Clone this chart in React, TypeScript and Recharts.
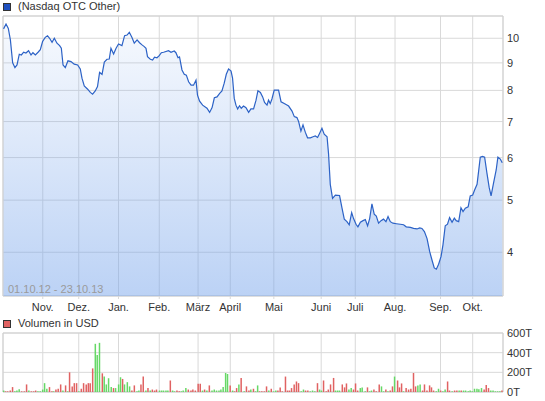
import { AreaChart, Area, BarChart, Bar, Cell, XAxis, YAxis, CartesianGrid, ReferenceArea } from "recharts";

// x values are trading-day indices from 01.10.12 (0) to 23.10.13 (264)
const dayDomain: [number, number] = [0, 264];
const monthTicks = [21, 40, 61, 82.5, 103, 120, 143, 168, 186, 207, 231, 248];
const monthLabels = ["Nov.", "Dez.", "Jan.", "Feb.", "März", "April", "Mai", "Juni", "Juli", "Aug.", "Sep.", "Okt."];

const priceTicks = [4, 5, 6, 7, 8, 9, 10];
const priceDomain: [number, number] = [3.317, 11.0];
const volumeTicks = [0, 200, 400, 600];
const volumeDomain: [number, number] = [0, 600];

// [day, close in USD]
const price: [number, number][] = [
  [0.3, 10.41], [1.6, 10.63], [2.8, 10.43], [3.9, 9.93], [5.1, 9.0], [6.3, 8.82], [7.4, 8.92], [8.6, 9.34],
  [9.7, 9.31], [10.9, 9.42], [12.1, 9.39], [13.5, 9.48], [14.8, 9.31], [15.8, 9.4], [17.1, 9.31], [18.5, 9.42],
  [19.7, 9.52], [20.9, 9.86], [22.3, 10.04], [23.5, 10.11], [24.6, 10.0], [25.9, 9.83], [27.1, 10.0], [28.5, 9.79],
  [29.9, 9.69], [30.8, 9.58], [31.7, 8.92], [32.9, 8.82], [34.3, 9.08], [35.9, 9.05], [37.6, 8.95], [39.4, 8.92],
  [40.8, 8.77], [41.7, 8.43], [42.9, 8.15], [44.7, 8.04], [46.1, 7.93], [47.3, 7.87], [48.7, 7.98], [49.9, 8.13],
  [51.0, 8.64], [52.3, 8.57], [53.5, 9.03], [54.9, 9.14], [56.1, 9.15], [57.0, 9.58], [58.4, 9.35], [59.7, 9.58],
  [61.0, 9.76], [62.8, 9.69], [64.2, 10.11], [65.5, 10.14], [66.7, 10.26], [68.1, 10.03], [69.3, 9.79], [70.8, 9.93],
  [72.1, 9.81], [73.4, 9.72], [74.6, 9.65], [75.5, 9.58], [76.3, 9.24], [77.8, 9.14], [79.0, 9.11], [80.0, 9.22],
  [81.3, 9.2], [82.5, 9.28], [83.6, 9.4], [84.8, 9.42], [87.4, 9.48], [88.7, 9.42], [90.4, 9.47], [91.3, 9.4],
  [92.4, 9.2], [93.2, 9.23], [94.5, 8.73], [95.7, 8.57], [96.8, 8.54], [98.0, 8.3], [99.3, 8.18], [100.6, 8.18],
  [101.9, 8.36], [102.7, 7.84], [103.8, 7.64], [105.4, 7.51], [107.7, 7.41], [109.1, 7.28], [110.4, 7.43], [111.6, 7.75],
  [113.0, 7.78], [114.4, 7.9], [115.6, 7.98], [116.8, 8.25], [117.9, 8.57], [119.1, 8.77], [120.4, 8.69], [121.2, 8.43],
  [122.1, 7.73], [123.0, 7.51], [123.9, 7.39], [124.9, 7.49], [125.8, 7.41], [127.0, 7.48], [128.3, 7.43], [129.7, 7.28],
  [130.9, 7.39], [132.3, 7.39], [133.6, 7.67], [134.6, 7.99], [135.9, 7.93], [137.1, 7.78], [138.1, 7.6], [139.4, 7.51],
  [140.2, 7.67], [141.1, 7.56], [142.0, 7.71], [143.2, 8.01], [145.5, 8.01], [146.8, 7.62], [148.5, 7.56], [150.8, 7.48],
  [152.6, 7.32], [153.8, 7.15], [155.2, 7.12], [156.1, 7.0], [157.3, 6.72], [158.4, 6.9], [159.6, 6.69], [160.8, 6.53],
  [162.3, 6.53], [163.7, 6.56], [164.9, 6.58], [166.1, 6.54], [167.2, 6.66], [168.4, 6.8], [169.6, 6.63], [171.1, 6.56],
  [171.9, 6.09], [172.8, 5.35], [174.0, 5.04], [175.5, 5.11], [177.7, 5.1], [179.0, 4.83], [180.2, 4.61], [181.6, 4.56],
  [182.8, 4.5], [184.1, 4.74], [185.1, 4.62], [186.4, 4.51], [187.4, 4.46], [188.7, 4.55], [190.1, 4.58], [191.3, 4.6],
  [192.5, 4.48], [193.6, 4.62], [194.8, 4.92], [196.0, 4.71], [197.1, 4.67], [198.3, 4.53], [199.6, 4.58], [200.9, 4.61],
  [202.2, 4.56], [203.3, 4.66], [204.5, 4.56], [205.9, 4.53], [207.7, 4.52], [209.8, 4.51], [211.5, 4.5], [212.9, 4.46],
  [215.1, 4.45], [216.8, 4.43], [218.6, 4.42], [220.0, 4.44], [221.2, 4.43], [222.5, 4.37], [223.9, 4.24], [225.3, 4.01],
  [226.5, 3.87], [227.7, 3.74], [228.8, 3.72], [230.0, 3.8], [231.3, 3.93], [232.3, 4.13], [233.5, 4.48], [234.7, 4.51],
  [235.8, 4.64], [237.1, 4.55], [238.3, 4.63], [239.3, 4.58], [240.6, 4.56], [241.8, 4.84], [242.9, 4.76], [244.1, 4.83],
  [245.6, 4.86], [246.7, 5.09], [248.0, 5.11], [249.0, 5.22], [250.3, 5.35], [251.1, 5.65], [252.0, 6.01], [253.2, 6.03],
  [254.3, 6.01], [255.5, 5.62], [256.7, 5.28], [257.7, 5.09], [259.0, 5.38], [260.4, 5.69], [261.3, 6.01], [262.6, 5.96],
  [263.6, 5.87],
];

// [day, volume in thousand USD, 1 = up day (green) / 0 = down day (red)]
const volume: [number, number, number][] = [
  [0.4, 15, 1], [1.4, 7, 0], [2.5, 7, 0], [3.9, 15, 0], [5.1, 50, 0], [6.3, 7, 1], [7.4, 15, 1], [8.6, 27, 1],
  [9.9, 7, 0], [11.3, 7, 0], [12.5, 77, 0], [13.7, 15, 1], [15.0, 7, 0], [16.2, 7, 0], [17.3, 15, 0], [18.5, 7, 1],
  [19.7, 7, 1], [21.0, 25, 1], [22.0, 90, 1], [23.2, 33, 1], [24.6, 50, 0], [25.9, 7, 0], [26.8, 7, 1], [28.0, 25, 0],
  [29.2, 33, 0], [30.5, 77, 0], [31.7, 15, 1], [33.1, 67, 0], [34.2, 7, 1], [35.2, 200, 0], [36.6, 57, 0], [37.7, 90, 0],
  [38.9, 90, 0], [40.1, 7, 1], [41.4, 33, 0], [42.6, 90, 0], [44.0, 77, 0], [45.1, 90, 0], [46.1, 90, 0], [47.4, 240, 0],
  [48.8, 490, 1], [49.8, 377, 1], [51.0, 500, 1], [52.5, 190, 0], [53.5, 157, 1], [54.6, 77, 1], [55.8, 140, 1], [57.2, 50, 1],
  [58.4, 40, 0], [59.5, 40, 1], [61.1, 77, 1], [62.1, 150, 1], [63.2, 133, 0], [64.2, 77, 1], [65.7, 100, 1], [66.9, 57, 1],
  [68.1, 15, 0], [69.4, 67, 0], [70.8, 7, 1], [71.8, 15, 1], [72.9, 77, 0], [74.1, 157, 0], [75.5, 15, 1], [76.6, 40, 0],
  [77.8, 15, 1], [78.9, 25, 0], [80.1, 15, 0], [81.1, 25, 0], [82.7, 15, 1], [83.8, 15, 1], [84.8, 15, 1], [86.1, 15, 1],
  [87.1, 15, 1], [88.4, 117, 0], [89.6, 15, 1], [90.6, 7, 1], [91.9, 15, 0], [93.1, 7, 0], [94.2, 7, 1], [95.2, 15, 1],
  [96.6, 40, 1], [97.9, 25, 0], [99.3, 15, 0], [100.3, 25, 0], [101.6, 15, 0], [103.1, 83, 0], [104.2, 83, 0], [105.4, 15, 1],
  [106.5, 25, 0], [107.7, 15, 1], [109.0, 67, 0], [110.4, 15, 1], [111.6, 25, 1], [112.8, 15, 1], [114.1, 15, 1], [115.1, 25, 1],
  [116.3, 50, 1], [117.6, 193, 1], [118.6, 183, 1], [120.0, 67, 0], [121.3, 15, 1], [122.3, 7, 0], [123.4, 40, 0], [124.6, 77, 1],
  [125.8, 143, 0], [127.4, 7, 1], [128.6, 57, 0], [129.9, 15, 0], [130.9, 25, 1], [132.3, 33, 0], [133.4, 7, 1], [134.5, 67, 1],
  [135.5, 7, 0], [136.7, 7, 0], [138.0, 7, 0], [139.2, 57, 0], [140.4, 15, 1], [141.7, 33, 0], [142.9, 7, 1], [144.1, 15, 1],
  [145.2, 15, 0], [146.4, 47, 0], [147.5, 7, 0], [149.2, 157, 0], [150.3, 15, 0], [151.3, 15, 0], [152.4, 40, 0], [153.8, 77, 0],
  [155.0, 107, 0], [156.1, 90, 0], [157.5, 7, 1], [158.7, 25, 1], [159.8, 15, 0], [161.0, 15, 0], [162.3, 7, 1], [163.5, 15, 1],
  [164.7, 7, 1], [166.1, 90, 0], [167.2, 25, 1], [168.2, 15, 1], [169.3, 117, 0], [170.7, 7, 0], [171.8, 25, 0], [173.0, 77, 0],
  [174.6, 143, 0], [175.6, 15, 1], [176.7, 15, 1], [177.7, 15, 1], [179.2, 77, 0], [180.4, 47, 0], [181.4, 87, 0], [182.7, 25, 1],
  [183.9, 40, 1], [185.1, 25, 0], [186.2, 87, 0], [187.3, 15, 0], [188.7, 40, 1], [189.7, 47, 1], [191.3, 7, 1], [192.5, 47, 0],
  [193.6, 7, 1], [194.6, 15, 1], [195.9, 25, 0], [197.1, 7, 0], [198.7, 77, 0], [199.9, 57, 1], [201.0, 7, 1], [202.2, 25, 0],
  [203.3, 7, 1], [204.5, 15, 0], [205.7, 57, 0], [206.8, 157, 1], [208.4, 117, 0], [209.4, 47, 0], [210.5, 87, 0], [211.5, 7, 1],
  [212.9, 40, 0], [214.2, 25, 0], [215.4, 33, 0], [216.8, 193, 0], [217.9, 57, 0], [219.1, 67, 1], [220.3, 77, 1], [221.6, 15, 0],
  [222.6, 77, 0], [223.9, 15, 0], [225.3, 67, 0], [226.3, 47, 0], [227.4, 15, 0], [228.8, 7, 1], [230.0, 33, 1], [231.1, 15, 0],
  [232.3, 7, 1], [233.5, 25, 1], [234.8, 107, 0], [235.8, 15, 0], [237.2, 7, 1], [238.5, 15, 0], [239.7, 15, 0], [240.9, 15, 1],
  [242.0, 15, 0], [243.2, 15, 1], [244.3, 15, 1], [245.7, 7, 1], [246.7, 15, 1], [247.8, 7, 1], [249.0, 33, 1], [250.3, 33, 1],
  [251.3, 27, 1], [252.7, 40, 1], [254.1, 25, 0], [255.2, 70, 0], [256.4, 40, 0], [257.6, 15, 1], [258.8, 15, 1], [260.0, 7, 1],
  [261.2, 7, 1], [262.4, 7, 1], [263.5, 15, 0],
];

const FONT = "'Liberation Sans', Arial, sans-serif";
const TEXT = "#333";
const GRID = "#d9d9d9";
const LINE = "#2c62c6";
const UP = "#66d866";
const DOWN = "#e06262";

const priceData = price.map(([t, v]) => ({ t, v }));
const volumeData = volume.map(([t, v, up]) => ({ t, v, up }));

function MonthTick({ x, y, payload }: any) {
  const idx = monthTicks.indexOf(payload.value);
  return (
    <text x={x} y={y} dy={10} textAnchor="middle" fontSize={11} fontFamily={FONT} fill={TEXT}>
      {monthLabels[idx]}
    </text>
  );
}

function RightTick({ x, y, payload, suffix }: any) {
  return (
    <text x={x} y={y} dy={4} textAnchor="start" fontSize={11} fontFamily={FONT} fill={TEXT}>
      {payload.value}
      {suffix}
    </text>
  );
}

function LegendBox({ color, label, top }: { color: string; label: string; top: number }) {
  return (
    <div style={{ position: "absolute", left: 3, top, display: "flex", alignItems: "center", fontFamily: FONT, fontSize: 11, color: TEXT, lineHeight: "13px" }}>
      <span style={{ width: 6, height: 6, background: color, border: "1px solid #333", marginRight: 7 }} />
      <span>{label}</span>
    </div>
  );
}

export default function App() {
  return (
    <div style={{ position: "absolute", left: 0, top: 0, width: 545, height: 401, background: "#fff", overflow: "hidden" }}>
      <LegendBox color="#1f50c0" label="(Nasdaq OTC Other)" top={0} />

      <div style={{ position: "absolute", left: 0, top: 0 }}>
        <AreaChart width={545} height={320} data={priceData} margin={{ top: 16, right: 0, bottom: 6, left: 3 }}>
          <defs>
            <linearGradient id="priceFill" x1="0" y1="0" x2="0" y2="1">
              <stop offset="0%" stopColor="#78a5eb" stopOpacity={0.06} />
              <stop offset="100%" stopColor="#78a5eb" stopOpacity={0.5} />
            </linearGradient>
          </defs>
          <CartesianGrid stroke={GRID} strokeWidth={1} />
          <XAxis
            dataKey="t"
            type="number"
            domain={dayDomain}
            ticks={monthTicks}
            height={18}
            axisLine={false}
            tickLine={{ stroke: GRID }}
            tickSize={3}
            tick={<MonthTick />}
            interval={0}
          />
          <YAxis
            orientation="right"
            type="number"
            scale="log"
            domain={priceDomain}
            allowDataOverflow
            ticks={priceTicks}
            width={42}
            axisLine={false}
            tickLine={false}
            tickSize={0}
            tickMargin={4}
            tick={<RightTick suffix="" />}
            interval={0}
          />
          <ReferenceArea x1={dayDomain[0]} x2={dayDomain[1]} y1={priceDomain[0]} y2={priceDomain[1]} fill="none" stroke="#d0d0d0" ifOverflow="visible" />
          <Area
            type="linear"
            dataKey="v"
            stroke={LINE}
            strokeWidth={1.2}
            fill="url(#priceFill)"
            fillOpacity={1}
            dot={false}
            activeDot={false}
            isAnimationActive={false}
          />
        </AreaChart>
      </div>

      <div style={{ position: "absolute", left: 8, top: 283, fontFamily: FONT, fontSize: 11, color: "#9a9a9a" }}>
        01.10.12 - 23.10.13
      </div>

      <LegendBox color={DOWN} label="Volumen in USD" top={317} />

      <div style={{ position: "absolute", left: 0, top: 316 }}>
        <BarChart width={545} height={85} data={volumeData} margin={{ top: 17, right: 0, bottom: 9, left: 3 }} barCategoryGap={0}>
          <CartesianGrid stroke={GRID} strokeWidth={1} />
          <XAxis dataKey="t" type="number" domain={dayDomain} ticks={monthTicks} hide />
          <YAxis
            orientation="right"
            type="number"
            domain={volumeDomain}
            ticks={volumeTicks}
            width={42}
            axisLine={false}
            tickLine={false}
            tickSize={0}
            tickMargin={4}
            tick={<RightTick suffix="T" />}
            interval={0}
          />
          <ReferenceArea x1={dayDomain[0]} x2={dayDomain[1]} y1={volumeDomain[0]} y2={volumeDomain[1]} fill="none" stroke="#d0d0d0" ifOverflow="visible" />
          <Bar dataKey="v" barSize={1.5} isAnimationActive={false}>
            {volumeData.map((d, i) => (
              <Cell key={i} fill={d.up ? UP : DOWN} />
            ))}
          </Bar>
        </BarChart>
      </div>
    </div>
  );
}
